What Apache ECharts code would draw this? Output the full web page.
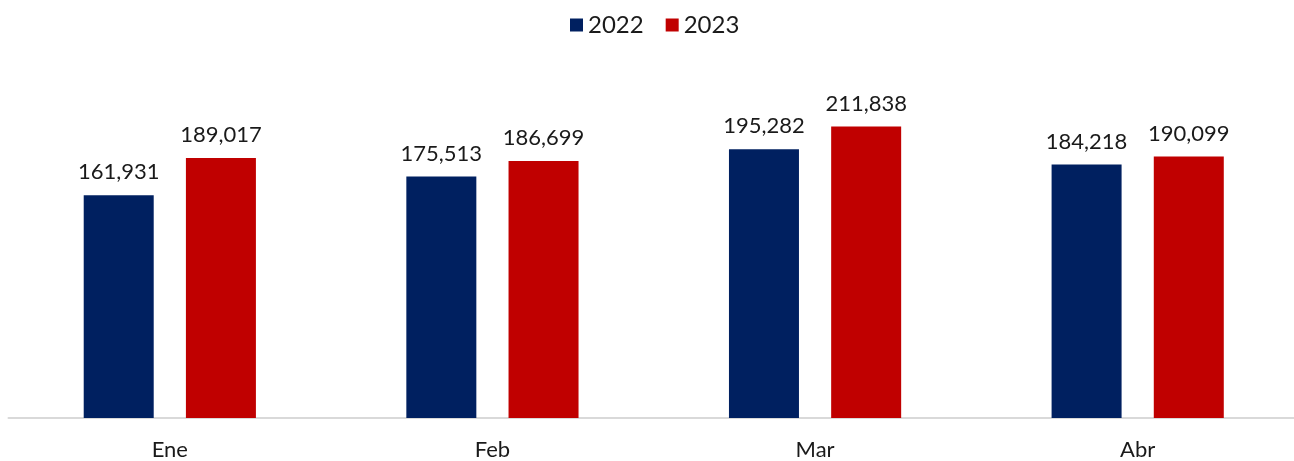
<!DOCTYPE html>
<html>
<head>
<meta charset="utf-8">
<script src="https://cdn.jsdelivr.net/npm/echarts@6/dist/echarts.min.js"></script>
<style>
  html, body { margin: 0; padding: 0; background: #fff; overflow: hidden; }
  /* un poco más ancho que la ventana: el eje llega al borde */
  #chart { width: 1300px; height: 461px; }
</style>
</head>
<body>
<div id="chart"></div>
<script>
// datos
const months = ['Ene', 'Feb', 'Mar', 'Abr']
const values2022 = [161931, 175513, 195282, 184218]
const values2023 = [189017, 186699, 211838, 190099]

const font = 'Lato, "Open Sans", sans-serif'
const fmt = (v) => v.toLocaleString('en-US')

const myChart = echarts.init(document.getElementById('chart'))

const barLabel = {
  show: true,
  position: 'top',
  distance: 12,
  fontSize: 22,
  color: '#1a1a1a',
  fontFamily: font,
  formatter: (p) => fmt(p.value),
}

const option = {
  animation: false,
  textStyle: { fontFamily: font },
  legend: {
    top: 8,
    left: 565,
    itemWidth: 13,
    itemHeight: 13,
    itemGap: 22,
    icon: 'rect',
    textStyle: { fontSize: 24, color: '#1a1a1a', fontFamily: font },
    data: ['2022', '2023'],
  },
  grid: {
    left: 8.5,
    right: 1,
    top: 74,
    bottom: 42.5,
  },
  xAxis: {
    type: 'category',
    data: months,
    axisLine: { lineStyle: { color: '#d9d9d9', width: 2 } },
    axisTick: { show: false },
    axisLabel: { color: '#1a1a1a', fontSize: 22, margin: 21, fontFamily: font },
  },
  yAxis: {
    type: 'value',
    min: 0,
    max: 250000,
    show: false,
    splitLine: { show: false },
  },
  series: [
    {
      name: '2022',
      type: 'bar',
      data: values2022,
      barWidth: 70,
      barGap: '46%',
      itemStyle: { color: '#002060' },
      label: barLabel,
    },
    {
      name: '2023',
      type: 'bar',
      data: values2023,
      barWidth: 70,
      barGap: '46%',
      itemStyle: { color: '#c00000' },
      label: barLabel,
    },
  ],
}

myChart.setOption(option)
</script>
</body>
</html>
